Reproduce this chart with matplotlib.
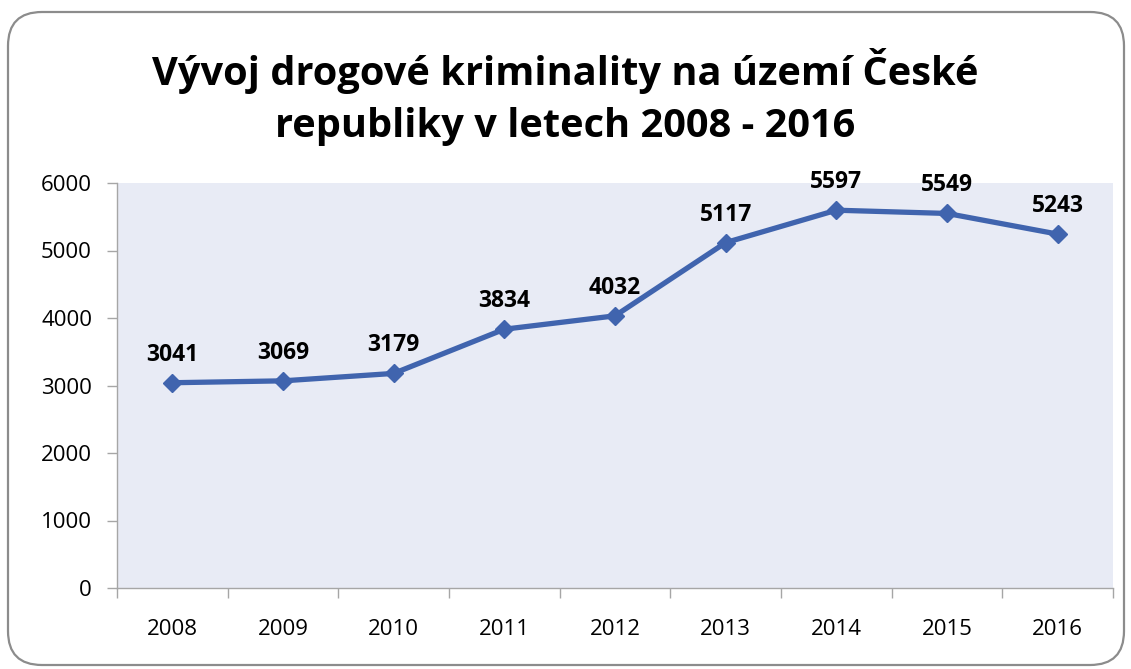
import matplotlib
matplotlib.use("Agg")
import matplotlib.pyplot as plt
from matplotlib.patches import FancyBboxPatch

years = ["2008", "2009", "2010", "2011", "2012", "2013", "2014", "2015", "2016"]
cases = [3041, 3069, 3179, 3834, 4032, 5117, 5597, 5549, 5243]
title = "Vývoj drogové kriminality na území České\nrepubliky v letech 2008 - 2016"

plt.rcParams['font.family'] = ['Open Sans', 'DejaVu Sans']

W, H = 1131, 669
fig = plt.figure(figsize=(W / 100, H / 100), dpi=100)
fig.patch.set_facecolor('white')

frame = FancyBboxPatch((8 / W, 4 / H), (1116 / W), (653 / H),
                       boxstyle="round,pad=0,rounding_size=0.03",
                       transform=fig.transFigure, facecolor='white',
                       edgecolor='#8c8c8c', linewidth=1.6, mutation_aspect=W / H,
                       zorder=-5)
fig.patches.append(frame)

ax = fig.add_axes([117 / W, 1 - 588 / H, (1113 - 117) / W, (588 - 183) / H])
ax.set_zorder(2)
ax.set_facecolor('#E8EBF5')
x = list(range(len(years)))
ax.plot(x, cases, color='#4064AE', linewidth=3.8, marker='D', markersize=9,
        markeredgecolor='#4064AE', zorder=3, clip_on=False)
for xi, v in zip(x, cases):
    ax.annotate(str(v), (xi, v), xytext=(0, 11.5), textcoords='offset points',
                ha='center', va='bottom', fontsize=16.5, fontweight='bold', color='black')

ax.set_xlim(-0.5, len(years) - 0.5)
ax.set_ylim(0, 6000)
ax.set_yticks(range(0, 6001, 1000))
ax.set_xticks([i - 0.5 for i in range(len(years) + 1)])
ax.set_xticklabels([])
ax.set_xticks(x, minor=True)
ax.set_xticklabels(years, minor=True)
ax.tick_params(axis='x', which='minor', length=0, pad=22, labelsize=16)
ax.tick_params(axis='x', which='major', length=7, color='#a6a6a6', width=1)
ax.tick_params(axis='y', length=7, color='#a6a6a6', width=1, labelsize=16, pad=11)
for s in ['top', 'right']:
    ax.spines[s].set_visible(False)
for s in ['left', 'bottom']:
    ax.spines[s].set_color('#a6a6a6')
    ax.spines[s].set_linewidth(1)

fig.text(0.5, 1 - 97 / H, title, ha='center', va='center', fontsize=28.6,
         fontweight='bold', linespacing=1.45)

fig.savefig('out.png', dpi=100)
